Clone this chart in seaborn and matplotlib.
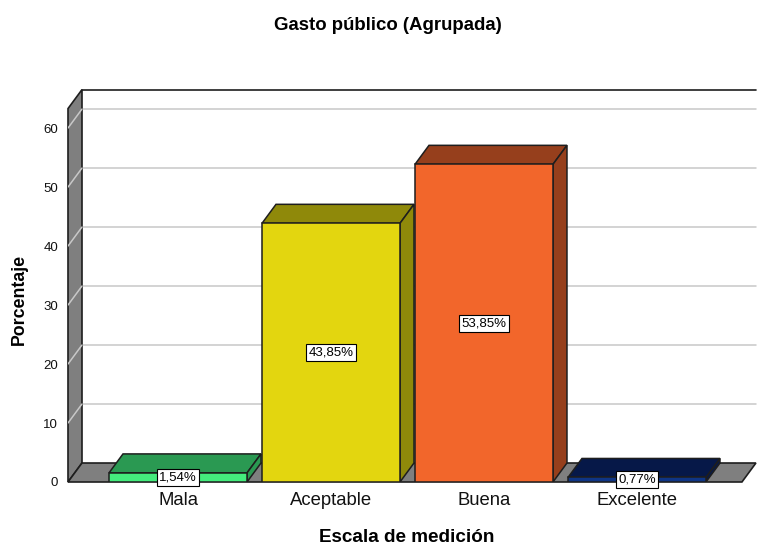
import matplotlib
matplotlib.use("Agg")
import matplotlib.pyplot as plt
from matplotlib.patches import Polygon
import seaborn as sns

categories = ["Mala", "Aceptable", "Buena", "Excelente"]
percentages = [1.54, 43.85, 53.85, 0.77]
value_labels = ["1,54%", "43,85%", "53,85%", "0,77%"]
front_colors = ["#44EC7D", "#E3D60F", "#F2662B", "#0F3585"]
shade_colors = ["#2A9952", "#8F890A", "#963F1C", "#061848"]
y_ticks = [0, 10, 20, 30, 40, 50, 60]

sns.set_theme(style="white")
plt.rcParams["font.family"] = ["Liberation Sans", "DejaVu Sans"]

fig = plt.figure(figsize=(7.58, 5.47), dpi=100)
ax = fig.add_axes([68 / 758, 65 / 547, 690 / 758, 392 / 547])

# 3D depth offsets in data units
dx, dy = 0.0915, 3.22
x_left, x_right = -0.719, 3.686
y_top = 63.3

wall = "#7F7F7F"
edge = "#1E1E1E"
grid = "#C8C8C8"

sns.barplot(x=categories, y=percentages, hue=categories, palette=front_colors, width=0.902,
            edgecolor=edge, linewidth=1.1, legend=False, ax=ax, zorder=3, saturation=1)

# back wall, left wall and floor
ax.add_patch(Polygon([(x_left + dx, dy), (x_right + dx, dy), (x_right + dx, y_top + dy),
                      (x_left + dx, y_top + dy)], closed=True, fc="white", ec="none", zorder=0))
ax.plot([x_left + dx, x_right + dx], [y_top + dy, y_top + dy], color=edge, lw=1.2, zorder=1.5,
        clip_on=False)
for v in y_ticks[1:]:
    ax.plot([x_left + dx, x_right + dx], [v + dy, v + dy], color=grid, lw=1.1, zorder=0.5)
ax.add_patch(Polygon([(x_left, 0), (x_left + dx, dy), (x_left + dx, y_top + dy), (x_left, y_top)],
                     closed=True, fc=wall, ec=edge, lw=1.2, zorder=1, clip_on=False))
for v in y_ticks[1:]:
    ax.plot([x_left, x_left + dx], [v, v + dy], color=grid, lw=1.1, zorder=1.2)
ax.add_patch(Polygon([(x_left, 0), (x_right, 0), (x_right + dx, dy), (x_left + dx, dy)],
                     closed=True, fc=wall, ec=edge, lw=1.2, zorder=1, clip_on=False))

bars = [b for c in ax.containers for b in c]
for bar, shade, lab in zip(bars, shade_colors, value_labels):
    x0 = bar.get_x()
    x1 = x0 + bar.get_width()
    h = bar.get_height()
    ax.add_patch(Polygon([(x0, h), (x0 + dx, h + dy), (x1 + dx, h + dy), (x1, h)], closed=True,
                         fc=shade, ec=edge, lw=1.1, zorder=2.5))
    ax.add_patch(Polygon([(x1, 0), (x1, h), (x1 + dx, h + dy), (x1 + dx, dy)], closed=True,
                         fc=shade, ec=edge, lw=1.1, zorder=2.5))
    ax.text(x0 + bar.get_width() / 2, h / 2, lab, ha="center", va="center", fontsize=9.5,
            color="black", zorder=6,
            bbox=dict(boxstyle="square,pad=0.18", fc="white", ec="black", lw=0.8))

ax.set_xlim(x_left, 3.791)
ax.set_ylim(0, 66.45)

ax.set_yticks(y_ticks)
ax.set_yticklabels([str(t) for t in y_ticks], fontsize=9.5, color="#111111")
ax.set_xticks(range(len(categories)))
ax.set_xticklabels(categories, fontsize=13.3, color="#111111")
ax.tick_params(axis="y", length=0, pad=7)
ax.tick_params(axis="x", length=0, pad=7)
for s in ax.spines.values():
    s.set_visible(False)
ax.set_facecolor("none")

ax.set_xlabel("Escala de medición", fontsize=13.6, fontweight="bold", color="black")
ax.xaxis.set_label_coords((406.5 - 68) / 690, (482 - 538) / 392)
ax.xaxis.label.set_verticalalignment("center")
ax.set_ylabel("Porcentaje", fontsize=12.8, fontweight="bold", color="black")
ax.yaxis.set_label_coords((19 - 68) / 690, (482 - 299) / 392)
ax.yaxis.label.set_verticalalignment("center")

fig.text(388 / 758, 1 - 25 / 547, "Gasto público (Agrupada)", ha="center", va="center",
         fontsize=13.4, fontweight="bold", color="black")

fig.savefig("out.png", dpi=100)
